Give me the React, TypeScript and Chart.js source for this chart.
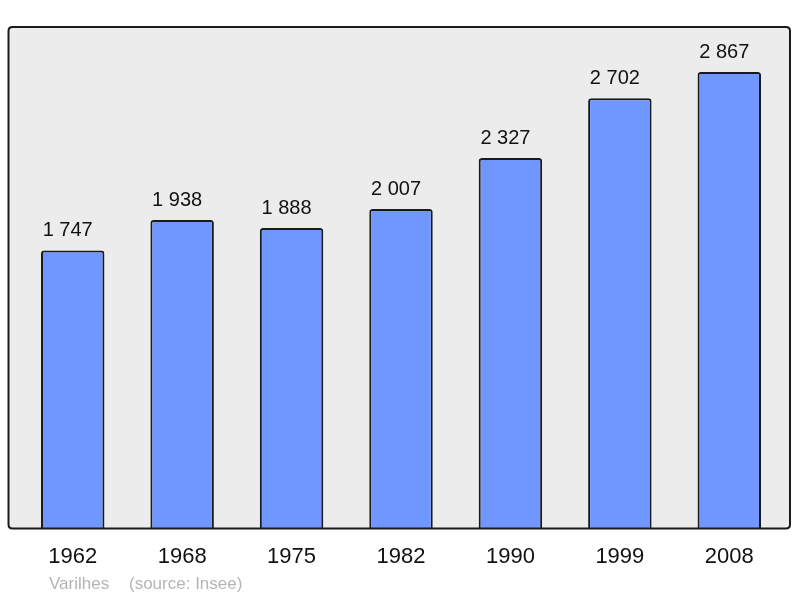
import React, { useEffect, useRef } from "react";
import { Chart, registerables } from "chart.js";

Chart.register(...registerables);

const years = ["1962", "1968", "1975", "1982", "1990", "1999", "2008"];
const population = [1747, 1938, 1888, 2007, 2327, 2702, 2867];
const yMax = 3150;
const placeName = "Varilhes";
const sourceText = "(source: Insee)";

const FONT = "'Liberation Sans', Arial, sans-serif";

const fmt = (v: number) => String(v).replace(/\B(?=(\d{3})+(?!\d))/g, " ");

function roundRect(ctx: CanvasRenderingContext2D, x: number, y: number, w: number, h: number, r: number) {
  ctx.beginPath();
  ctx.moveTo(x + r, y);
  ctx.lineTo(x + w - r, y);
  ctx.quadraticCurveTo(x + w, y, x + w, y + r);
  ctx.lineTo(x + w, y + h - r);
  ctx.quadraticCurveTo(x + w, y + h, x + w - r, y + h);
  ctx.lineTo(x + r, y + h);
  ctx.quadraticCurveTo(x, y + h, x, y + h - r);
  ctx.lineTo(x, y + r);
  ctx.quadraticCurveTo(x, y, x + r, y);
  ctx.closePath();
}

const boxPlugin = {
  id: "boxPlugin",
  beforeDatasetsDraw(chart: any) {
    const { ctx, chartArea } = chart;
    const x = chartArea.left - 9.5;
    const w = chartArea.right + 6 - x;
    ctx.save();
    roundRect(ctx, x, chartArea.top, w, chartArea.bottom - chartArea.top, 4);
    ctx.fillStyle = "#ececec";
    ctx.fill();
    ctx.restore();
  },
  afterDatasetsDraw(chart: any) {
    const { ctx, chartArea } = chart;
    const x = chartArea.left - 9.5;
    const w = chartArea.right + 6 - x;
    ctx.save();
    roundRect(ctx, x, chartArea.top, w, chartArea.bottom - chartArea.top, 4);
    ctx.lineWidth = 2;
    ctx.strokeStyle = "#1a1a1a";
    ctx.stroke();

    // value labels
    const meta = chart.getDatasetMeta(0);
    ctx.fillStyle = "#111";
    ctx.font = `20px ${FONT}`;
    ctx.textAlign = "center";
    ctx.textBaseline = "alphabetic";
    meta.data.forEach((bar: any, i: number) => {
      ctx.fillText(fmt(population[i]), bar.x - 5, bar.y - 14);
    });

    // footer
    ctx.fillStyle = "#b5b5b5";
    ctx.font = `17px ${FONT}`;
    ctx.textAlign = "left";
    ctx.textBaseline = "middle";
    ctx.fillText(placeName, 49, 584);
    ctx.fillText(sourceText, 129, 584);
    ctx.restore();
  },
};

export default function App() {
  const ref = useRef<HTMLCanvasElement>(null);

  useEffect(() => {
    if (!ref.current) return;
    const chart = new Chart(ref.current, {
      type: "bar",
      data: {
        labels: years,
        datasets: [
          {
            data: population,
            backgroundColor: "#7097ff",
            borderColor: "#1a1a1a",
            borderWidth: 2,
            borderRadius: { topLeft: 3, topRight: 3, bottomLeft: 0, bottomRight: 0 },
            borderSkipped: "bottom",
            barPercentage: 0.58,
            categoryPercentage: 1,
          },
        ],
      },
      options: {
        responsive: false,
        animation: false,
        devicePixelRatio: 1,
        layout: { padding: { left: 18, right: 16, top: 27, bottom: 13 } },
        plugins: {
          legend: { display: false },
          tooltip: { enabled: false },
          title: { display: false },
        },
        scales: {
          x: {
            grid: { display: false, drawTicks: false },
            border: { display: false },
            ticks: {
              color: "#111",
              font: { family: FONT, size: 22 },
              padding: 15,
              maxRotation: 0,
            },
          },
          y: {
            display: false,
            min: 0,
            max: yMax,
          },
        },
      },
      plugins: [boxPlugin],
    });
    return () => chart.destroy();
  }, []);

  return (
    <div style={{ position: "fixed", left: 0, top: 0, width: 800, height: 598, background: "#fff" }}>
      <canvas ref={ref} width={800} height={598} />
    </div>
  );
}
